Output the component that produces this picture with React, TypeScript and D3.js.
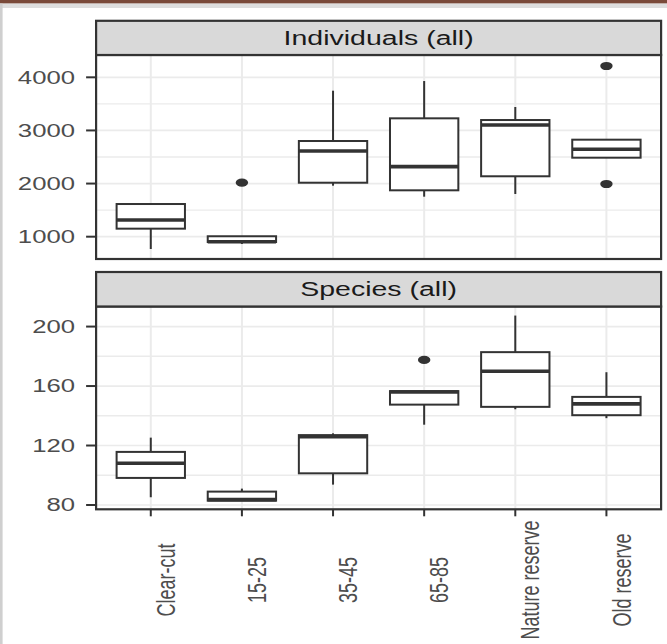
import React from "react";
import * as d3 from "d3";

const categories = ["Clear-cut", "15-25", "35-45", "65-85", "Nature reserve", "Old reserve"];
const panelTitles = ["Individuals (all)", "Species (all)"];

// Individuals (all)
const indLower = [768, 863, 1960, 1753, 1804, 2487];
const indQ1 = [1151, 900, 2016, 1873, 2137, 2487];
const indMedian = [1314, 905, 2613, 2318, 3102, 2645];
const indQ3 = [1615, 1008, 2801, 3228, 3196, 2826];
const indUpper = [1615, 1008, 3748, 3930, 3441, 2826];
const indOutliers = [[], [2016], [], [], [], [4213, 1992]];
const indTicks = [1000, 2000, 3000, 4000];
const indMinor = [1500, 2500, 3500];
const indDomain = [580, 4420];

// Species (all)
const spLower = [85.2, 82.9, 93.7, 134.0, 144.4, 138.4];
const spQ1 = [98.2, 82.9, 101.3, 147.5, 146.0, 140.4];
const spMedian = [108.1, 83.6, 125.9, 156.0, 170.0, 148.0];
const spQ3 = [115.7, 89.0, 127.0, 156.6, 182.8, 152.7];
const spUpper = [125.3, 91.0, 128.2, 156.6, 207.4, 169.3];
const spOutliers = [[], [], [], [177.6], [], []];
const spTicks = [80, 120, 160, 200];
const spMinor = [100, 140, 180];
const spDomain = [77.1, 213.5];

const W = 667;
const H = 644;
const SX = 1.47;
const FONT = "'Liberation Sans', Arial, Helvetica, sans-serif";
const DARK = "#333333";

const x = d3.scalePoint<string>().domain(categories).range([96.1, 661.1]).padding(0.6);
const boxW = x.step() * 0.75;

type PanelProps = {
  title: string;
  stripTop: number;
  stripBot: number;
  plotBot: number;
  domain: number[];
  ticks: number[];
  minor: number[];
  lower: number[];
  q1: number[];
  median: number[];
  q3: number[];
  upper: number[];
  outliers: number[][];
  showX: boolean;
};

function Panel(p: PanelProps) {
  const y = d3.scaleLinear().domain(p.domain).range([p.plotBot, p.stripBot]);
  const [L, R] = x.range();
  return (
    <g>
      {/* grid */}
      {p.minor.map((v) => (
        <line key={"mi" + v} x1={L} x2={R} y1={y(v)} y2={y(v)} stroke="#ebebeb" strokeWidth={1.4} />
      ))}
      {p.ticks.map((v) => (
        <line key={"ma" + v} x1={L} x2={R} y1={y(v)} y2={y(v)} stroke="#ebebeb" strokeWidth={1.7} />
      ))}
      {categories.map((c) => (
        <line key={"vg" + c} x1={x(c)} x2={x(c)} y1={p.stripBot} y2={p.plotBot} stroke="#ebebeb" strokeWidth={2} />
      ))}
      {/* boxes */}
      {categories.map((c, i) => {
        const cx = x(c) as number;
        return (
          <g key={"b" + c}>
            <line x1={cx} x2={cx} y1={y(p.q3[i])} y2={y(p.upper[i])} stroke={DARK} strokeWidth={2} />
            <line x1={cx} x2={cx} y1={y(p.q1[i])} y2={y(p.lower[i])} stroke={DARK} strokeWidth={2} />
            <rect
              x={cx - boxW / 2}
              width={boxW}
              y={y(p.q3[i])}
              height={Math.max(0.5, y(p.q1[i]) - y(p.q3[i]))}
              fill="#ffffff"
              stroke={DARK}
              strokeWidth={2}
            />
            <line x1={cx - boxW / 2} x2={cx + boxW / 2} y1={y(p.median[i])} y2={y(p.median[i])} stroke={DARK} strokeWidth={3.6} />
            {p.outliers[i].map((o, j) => (
              <ellipse key={j} cx={cx} cy={y(o)} rx={6.2} ry={4.1} fill={DARK} />
            ))}
          </g>
        );
      })}
      {/* panel border */}
      <rect x={L} y={p.stripBot} width={R - L} height={p.plotBot - p.stripBot} fill="none" stroke={DARK} strokeWidth={2.2} />
      {/* strip */}
      <rect x={L} y={p.stripTop} width={R - L} height={p.stripBot - p.stripTop} fill="#d9d9d9" stroke={DARK} strokeWidth={2.2} />
      <text
        transform={`translate(${(L + R) / 2},${(p.stripTop + p.stripBot) / 2 + 6.9}) scale(${SX},1)`}
        textAnchor="middle"
        fontFamily={FONT}
        fontSize={19.4}
        fill="#1a1a1a"
      >
        {p.title}
      </text>
      {/* y axis */}
      {p.ticks.map((v) => (
        <g key={"yt" + v}>
          <line x1={L - 10} x2={L} y1={y(v)} y2={y(v)} stroke={DARK} strokeWidth={2} />
          <text
            transform={`translate(${L - 21},${y(v) + 6.3}) scale(${SX},1)`}
            textAnchor="end"
            fontFamily={FONT}
            fontSize={17.5}
            fill="#4d4d4d"
          >
            {v}
          </text>
        </g>
      ))}
      {/* x axis */}
      {p.showX &&
        categories.map((c) => {
          const cx = x(c) as number;
          return (
            <g key={"xt" + c}>
              <line x1={cx} x2={cx} y1={p.plotBot} y2={p.plotBot + 7} stroke={DARK} strokeWidth={2} />
              <text
                transform={`translate(${cx + 24.2},580) scale(${SX},1) rotate(-90)`}
                textAnchor="middle"
                fontFamily={FONT}
                fontSize={18}
                fill="#4d4d4d"
              >
                {c}
              </text>
            </g>
          );
        })}
    </g>
  );
}

export default function App() {
  return (
    <svg
      width={W}
      height={H}
      viewBox={`0 0 ${W} ${H}`}
      style={{ position: "absolute", left: 0, top: 0, background: "#ffffff" }}
    >
      <rect x={0} y={0} width={W} height={H} fill="#ffffff" />
      <rect x={0} y={0} width={W} height={3.6} fill="#7a4a3a" />
      <rect x={0} y={3.6} width={W} height={4.4} fill="#dedede" />
      <rect x={0} y={3.6} width={2.6} height={H} fill="#cfcfcf" />
      <Panel
        title={panelTitles[0]}
        stripTop={20.8}
        stripBot={55}
        plotBot={259}
        domain={indDomain}
        ticks={indTicks}
        minor={indMinor}
        lower={indLower}
        q1={indQ1}
        median={indMedian}
        q3={indQ3}
        upper={indUpper}
        outliers={indOutliers}
        showX={false}
      />
      <Panel
        title={panelTitles[1]}
        stripTop={272}
        stripBot={306.5}
        plotBot={509.3}
        domain={spDomain}
        ticks={spTicks}
        minor={spMinor}
        lower={spLower}
        q1={spQ1}
        median={spMedian}
        q3={spQ3}
        upper={spUpper}
        outliers={spOutliers}
        showX={true}
      />
    </svg>
  );
}
